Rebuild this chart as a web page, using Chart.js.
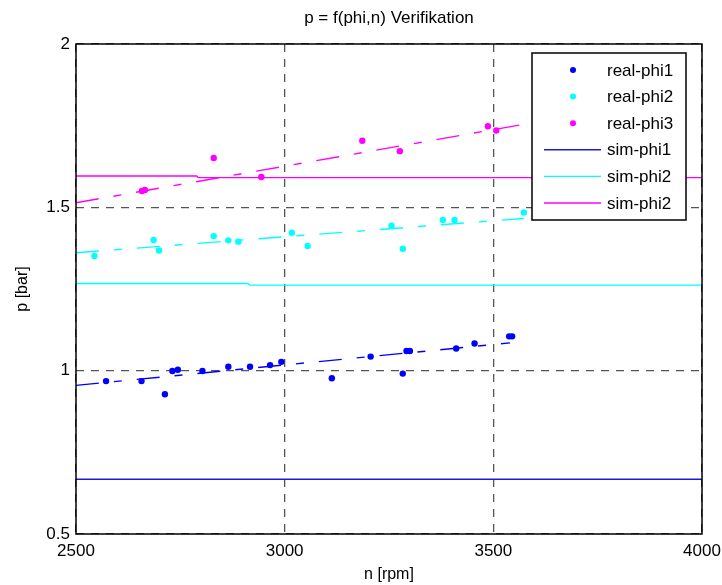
<!DOCTYPE html>
<html><head><meta charset="utf-8">
<script src="https://cdn.jsdelivr.net/npm/chart.js@4.4.1/dist/chart.umd.min.js"></script>
<style>html,body{margin:0;padding:0;background:#fff}#wrap{width:722px;height:585px}</style>
</head><body><div id="wrap"><canvas id="c" width="722" height="585"></canvas></div>
<script>
// ---- data ----
const titleText = 'p = f(phi,n) Verifikation';
const xLabel = 'n [rpm]';
const yLabel = 'p [bar]';
const xTicks = [2500, 3000, 3500, 4000];
const yTicks = [0.5, 1, 1.5, 2];

const realPhi1N = [2572, 2657, 2713, 2731, 2744, 2803, 2865, 2917, 2965, 2992, 3113, 3206, 3283, 3292, 3300, 3411, 3455, 3538, 3545];
const realPhi1P = [0.968, 0.968, 0.928, 0.999, 1.003, 0.999, 1.012, 1.012, 1.017, 1.027, 0.977, 1.043, 0.991, 1.060, 1.060, 1.068, 1.083, 1.105, 1.105];

const realPhi2N = [2544, 2686, 2699, 2830, 2865, 2889, 3017, 3055, 3256, 3283, 3379, 3407, 3573];
const realPhi2P = [1.351, 1.400, 1.368, 1.412, 1.399, 1.395, 1.422, 1.382, 1.444, 1.373, 1.461, 1.461, 1.484];

const realPhi3N = [2658, 2665, 2830, 2944, 3186, 3276, 3487, 3507];
const realPhi3P = [1.550, 1.553, 1.651, 1.593, 1.704, 1.672, 1.748, 1.735];

// dash-dot fit lines (end points)
const fit1N = [2500, 3540];
const fit1P = [0.955, 1.085];
const fit2N = [2500, 3573];
const fit2P = [1.361, 1.466];
const fit3N = [2500, 3568];
const fit3P = [1.514, 1.753];

// simulated lines
const sim1N = [2500, 4000];
const sim1P = [0.6675, 0.6675];
const sim2N = [2500, 2912, 2916, 4000];
const sim2P = [1.267, 1.267, 1.262, 1.262];
const sim3N = [2500, 2789, 2793, 4000];
const sim3P = [1.596, 1.596, 1.591, 1.591];

const legendLabels = ['real-phi1', 'real-phi2', 'real-phi3', 'sim-phi1', 'sim-phi2', 'sim-phi2'];

// ---- build ----
const pts = (xs, ys) => xs.map((x, i) => ({x: x, y: ys[i]}));
const BLUE = '#0000ff', CYAN = '#00ffff', MAG = '#ff00ff';
const SIMBLUE = '#1c1cd8';
const FONT = "'Liberation Sans', Arial, Helvetica, sans-serif";
const dashDot = [23, 15, 8, 15];

const pointDs = (label, xs, ys, c) => ({
  type: 'scatter', label, data: pts(xs, ys), showLine: false,
  pointRadius: 3.2, pointHoverRadius: 3.2, pointBackgroundColor: c, pointBorderWidth: 0,
  borderColor: c, backgroundColor: c, legendKind: 'point', order: 0
});
const lineDs = (label, xs, ys, c, dash, kind) => ({
  type: 'line', label, data: pts(xs, ys), borderColor: c, backgroundColor: c,
  borderWidth: 1.4, borderDash: dash, pointRadius: 0, fill: false, tension: 0,
  legendKind: kind, order: 1
});

const datasets = [
  pointDs(legendLabels[0], realPhi1N, realPhi1P, BLUE),
  pointDs(legendLabels[1], realPhi2N, realPhi2P, CYAN),
  pointDs(legendLabels[2], realPhi3N, realPhi3P, MAG),
  lineDs(legendLabels[3], sim1N, sim1P, SIMBLUE, [], 'line'),
  lineDs(legendLabels[4], sim2N, sim2P, CYAN, [], 'line'),
  lineDs(legendLabels[5], sim3N, sim3P, MAG, [], 'line'),
  lineDs('fit1', fit1N, fit1P, BLUE, dashDot, 'none'),
  lineDs('fit2', fit2N, fit2P, CYAN, dashDot, 'none'),
  lineDs('fit3', fit3N, fit3P, MAG, dashDot, 'none')
];

const boxLegend = {
  id: 'boxLegend',
  afterDraw(chart) {
    const ctx = chart.ctx, a = chart.chartArea;
    ctx.save();
    ctx.setLineDash([]);
    ctx.strokeStyle = '#000';
    ctx.lineWidth = 1.5;
    ctx.strokeRect(a.left, a.top, a.right - a.left, a.bottom - a.top);
    // legend box
    const w = 154, h = 167;
    const L = a.right - 16 - w, T = a.top + 9;
    ctx.fillStyle = '#fff';
    ctx.fillRect(L, T, w, h);
    ctx.strokeRect(L, T, w, h);
    const items = chart.data.datasets.filter(d => d.legendKind !== 'none');
    ctx.font = '17px ' + FONT;
    ctx.textBaseline = 'middle';
    ctx.textAlign = 'left';
    items.forEach((d, i) => {
      const y = T + 17 + i * 26.6;
      if (d.legendKind === 'point') {
        ctx.fillStyle = d.pointBackgroundColor;
        ctx.beginPath(); ctx.arc(L + 41, y, 3, 0, Math.PI * 2); ctx.fill();
      } else {
        ctx.strokeStyle = d.borderColor; ctx.lineWidth = 1.4;
        ctx.beginPath(); ctx.moveTo(L + 12, y); ctx.lineTo(L + 69, y); ctx.stroke();
      }
      ctx.fillStyle = '#000';
      ctx.fillText(d.label, L + 75, y + 1);
    });
    ctx.restore();
  }
};

Chart.defaults.font.family = FONT;
Chart.defaults.color = '#000';

new Chart(document.getElementById('c'), {
  data: { datasets },
  options: {
    responsive: false, animation: false, devicePixelRatio: 1,
    layout: { padding: { left: 0, right: 20, top: 0, bottom: 0 } },
    plugins: {
      legend: { display: false },
      tooltip: { enabled: false },
      title: {
        display: true, text: titleText, fullSize: false, color: '#000',
        font: { size: 17, weight: 'normal' }, padding: { top: 8, bottom: 15.6 }
      }
    },
    scales: {
      x: {
        type: 'linear', min: xTicks[0], max: xTicks[xTicks.length - 1],
        afterBuildTicks: s => { s.ticks = xTicks.map(v => ({value: v})); },
        afterFit: s => { s.height = 51; s.paddingLeft = 0; s.paddingRight = 0; },
        ticks: { callback: v => String(v), font: { size: 17 }, padding: 7, color: '#000', maxRotation: 0 },
        grid: { color: '#555', lineWidth: 1.3, drawTicks: false },
        border: { display: false, dash: [8, 7] },
        title: { display: true, text: xLabel, font: { size: 16 }, color: '#000', padding: { top: 0, bottom: 1 } }
      },
      y: {
        type: 'linear', min: yTicks[0], max: yTicks[yTicks.length - 1],
        afterBuildTicks: s => { s.ticks = yTicks.map(v => ({value: v})); },
        afterFit: s => { s.width = 76; s.paddingTop = 0; s.paddingBottom = 0; },
        ticks: { callback: v => String(v), font: { size: 17 }, padding: 6, color: '#000' },
        grid: { color: '#555', lineWidth: 1.3, drawTicks: false },
        border: { display: false, dash: [8, 7] },
        title: { display: true, text: yLabel, font: { size: 16 }, color: '#000', padding: { top: 13, bottom: 0 } }
      }
    }
  },
  plugins: [boxLegend]
});
</script>
</body></html>
